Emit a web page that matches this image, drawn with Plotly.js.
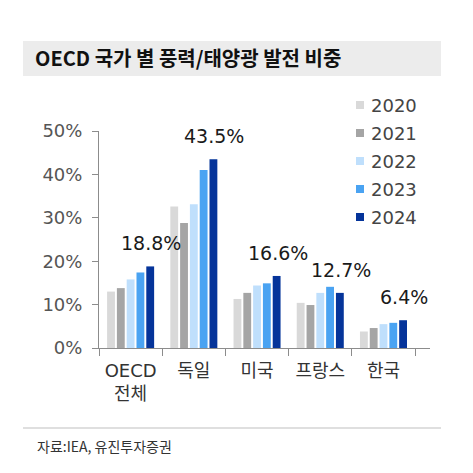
<!DOCTYPE html>
<html>
<head>
<meta charset="utf-8">
<script src="https://cdn.plot.ly/plotly-3.0.1.min.js"></script>
<style>html,body{margin:0;padding:0;background:#fff;}#chart{width:473px;height:473px;}</style>
</head>
<body>
<div id="chart"></div>
<script>
// ---- data ----
const categories = ["OECD<br>전체", "독일", "미국", "프랑스", "한국"];
const years = ["2020", "2021", "2022", "2023", "2024"];
const v2020 = [13.0, 32.6, 11.3, 10.4, 3.8];
const v2021 = [13.8, 28.8, 12.7, 9.9, 4.6];
const v2022 = [15.8, 33.1, 14.4, 12.7, 5.5];
const v2023 = [17.4, 41.0, 14.9, 14.1, 5.8];
const v2024 = [18.8, 43.5, 16.6, 12.7, 6.4];
const labels2024 = ["18.8%", "43.5%", "16.6%", "12.7%", "6.4%"];
const yTickVals = [0, 10, 20, 30, 40, 50];
const yTickText = ["0%", "10%", "20%", "30%", "40%", "50%"];
const titleText = "OECD 국가 별 풍력/태양광 발전 비중";
const sourceText = "자료:IEA, 유진투자증권";

// ---- style ----
const colors = ["#d9d9d9", "#a5a5a5", "#bfdffc", "#4aa3f2", "#05349a"];
const series = [v2020, v2021, v2022, v2023, v2024];
const W = 473, H = 473;
const M = {l: 99, r: 43, t: 131, b: 125};
const PW = W - M.l - M.r, PH = H - M.t - M.b;
const px = x => (x - M.l) / PW;
const py = y => (H - M.b - y) / PH;
const bargap = 0.225, bargroupgap = 0.2;
const slot = (PW / categories.length) * (1 - bargap) / years.length;
const latinFont = "DejaVu Sans, Noto Sans CJK KR, sans-serif";

const traces = series.map((vals, i) => ({
  type: "bar",
  name: years[i],
  x: categories,
  y: vals,
  marker: {color: colors[i], line: {width: 0}},
  hoverinfo: "skip",
  showlegend: false
}));

const annotations = categories.map((c, i) => ({
  x: c, y: v2024[i], xref: "x", yref: "y",
  text: labels2024[i], showarrow: false,
  xanchor: "center", yanchor: "bottom",
  xshift: 2 * slot, yshift: 10,
  font: {family: latinFont, size: 19, color: "#1a1a1a"}
}));

// manual legend
const shapes = [];
years.forEach((yr, i) => {
  const cy = 105 + i * 28;
  shapes.push({type: "rect", xref: "paper", yref: "paper",
    x0: px(356), x1: px(364), y0: py(cy + 4), y1: py(cy - 4),
    fillcolor: colors[i], line: {width: 0}});
  annotations.push({xref: "paper", yref: "paper", x: px(369), y: py(cy),
    xanchor: "left", yanchor: "middle", text: yr, showarrow: false,
    font: {family: latinFont, size: 18, color: "#444"}});
});

// title band
shapes.push({type: "rect", xref: "paper", yref: "paper", layer: "below",
  x0: px(23), x1: px(441), y0: py(76), y1: py(41),
  fillcolor: "#ececec", line: {width: 0}});
// bottom separator
shapes.push({type: "line", xref: "paper", yref: "paper",
  x0: px(23), x1: px(441), y0: py(428), y1: py(428),
  line: {color: "#bfbfbf", width: 1}});
annotations.push({xref: "paper", yref: "paper", x: px(35), y: py(446),
  xanchor: "left", yanchor: "middle", text: sourceText, showarrow: false,
  font: {family: "Noto Sans CJK KR, sans-serif", size: 14, color: "#333"}});

const layout = {
  width: W, height: H,
  margin: M,
  paper_bgcolor: "#fff", plot_bgcolor: "#fff",
  barmode: "group", bargap: bargap, bargroupgap: bargroupgap,
  showlegend: false,
  title: {
    text: "<b>" + titleText + "</b>",
    x: 35 / W, xanchor: "left", xref: "container",
    y: 1 - 59 / H, yanchor: "middle", yref: "container",
    font: {family: "Noto Sans CJK KR, sans-serif", size: 20, color: "#111"}
  },
  xaxis: {
    type: "category",
    showline: true, linecolor: "#8c8c8c", linewidth: 1,
    ticks: "outside", tickson: "boundaries", ticklen: 7, tickcolor: "#8c8c8c",
    showgrid: false, zeroline: false,
    ticklabelstandoff: 6,
    tickfont: {family: latinFont, size: 18, color: "#333"},
    fixedrange: true
  },
  yaxis: {
    range: [0, 50],
    tickvals: yTickVals, ticktext: yTickText,
    showline: true, linecolor: "#8c8c8c", linewidth: 1,
    ticks: "outside", ticklen: 6, tickcolor: "#8c8c8c",
    showgrid: false, zeroline: false,
    ticklabelstandoff: 6,
    tickfont: {family: latinFont, size: 18, color: "#555"},
    fixedrange: true
  },
  shapes: shapes,
  annotations: annotations
};

Plotly.newPlot("chart", traces, layout, {displayModeBar: false, staticPlot: true});
</script>
</body>
</html>
